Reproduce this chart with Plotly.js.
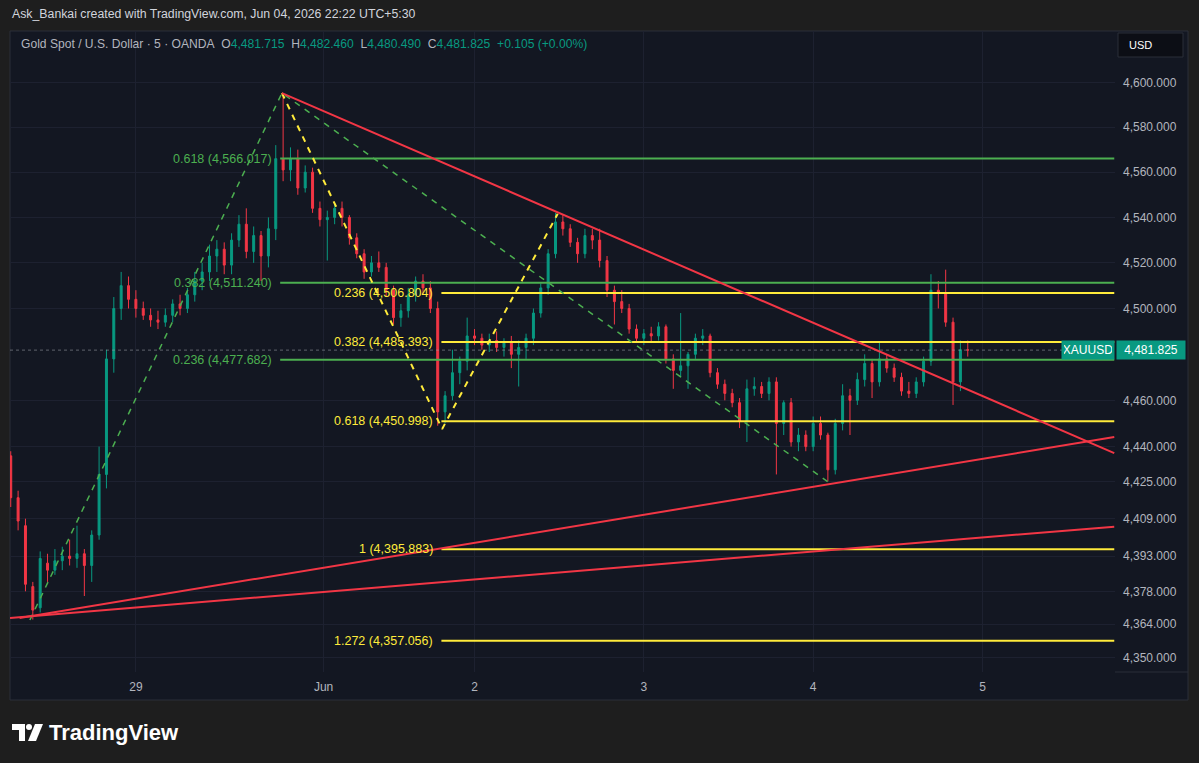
<!DOCTYPE html>
<html><head><meta charset="utf-8">
<script src="https://cdn.plot.ly/plotly-3.0.1.min.js"></script>
<style>html,body{margin:0;padding:0;background:#1e1e1e;}#chart{width:1199px;height:763px;}</style>
</head><body><div id="chart"></div>
<script>
// x = trading hours since Fri 29 May 00:00 (UTC+5:30), weekend gap removed
const candleHour = [-17,-16,-15,-14,-13,-12,-11,-10,-9,-8,-7,-6,-5,-4,-3,-2,-1,0,1,2,3,4,5,6,7,8,9,10,11,12,13,14,15,16,17,18,19,20,21,22,23,24,25,26,27,28,29,30,31,32,33,34,35,36,37,38,39,40,41,42,43,44,45,46,47,48,49,50,51,52,53,54,55,56,57,58,59,60,61,62,63,64,65,66,67,68,69,70,71,72,73,74,75,76,77,78,79,80,81,82,83,84,85,86,87,88,89,90,91,92,93,94,95,96,97,98,99,100,101,102,103,104,105,106,107,108,109,110,111,112,113];
const openPx = [4436,4418,4406,4380,4371,4390,4387,4391,4393,4392,
 4394,4389,4402,4428,4478,4500,4510,4504,4500,4497,
 4495,4494,4497,4502,4500,4506,4512,4516,4523,4526,
 4519,4530,4537,4525,4532,4523,4535,4566,4561,4566,
 4553,4560,4544,4539,4540,4544,4540,4531,4524,4516,
 4520,4518,4508,4496,4499,4506,4512,4509,4500,4455,
 4462,4472,4477,4488,4487,4484,4486,4483,4485,4480,
 4483,4487,4498,4509,4524,4538,4535,4529,4524,4532,
 4530,4521,4508,4503,4500,4491,4487,4489,4488,4492,
 4478,4473,4475,4480,4487,4488,4472,4467,4463,4459,
 4451,4465,4466,4463,4468,4450,4459,4442,4445,4440,
 4450,4445,4430,4450,4462,4460,4469,4476,4468,4478,
 4474,4470,4464,4463,4468,4477,4508,4507,4494,4468,4482];
const highPx = [4438,4421,4409,4382,4395,4394,4396,4397,4400,4406,
 4396,4404,4440,4482,4505,4516,4514,4508,4503,4500,
 4499,4500,4504,4506,4509,4516,4520,4528,4530,4529,
 4533,4541,4544,4536,4534,4540,4572,4595,4571,4570,
 4563,4562,4547,4543,4546,4547,4541,4533,4526,4523,
 4525,4520,4510,4502,4509,4514,4515,4512,4503,4464,
 4482,4479,4496,4491,4489,4489,4490,4487,4488,4486,
 4489,4500,4511,4526,4542,4541,4537,4531,4535,4535,
 4535,4523,4510,4508,4502,4493,4491,4492,4494,4493,
 4480,4498,4481,4489,4491,4489,4474,4469,4465,4461,
 4469,4470,4468,4470,4470,4460,4461,4448,4447,4453,
 4453,4446,4452,4467,4465,4472,4480,4478,4485,4480,
 4476,4472,4468,4470,4479,4515,4512,4517,4496,4486,4486];
const lowPx = [4414,4404,4378,4366,4369,4382,4385,4387,4389,4388,
 4376,4382,4400,4422,4472,4495,4500,4496,4495,4492,
 4491,4492,4494,4497,4498,4503,4508,4512,4516,4515,
 4515,4527,4522,4520,4512,4518,4530,4556,4556,4550,
 4551,4542,4536,4521,4537,4536,4528,4522,4513,4514,
 4516,4505,4493,4492,4496,4503,4506,4498,4449,4450,
 4460,4467,4473,4484,4482,4481,4481,4479,4474,4466,
 4478,4484,4496,4506,4522,4532,4527,4520,4522,4526,
 4518,4505,4493,4498,4489,4485,4484,4485,4486,4476,
 4465,4470,4465,4478,4484,4470,4465,4460,4457,4448,
 4442,4462,4461,4460,4428,4445,4440,4438,4438,4438,
 4443,4425,4428,4447,4445,4458,4466,4461,4466,4472,
 4468,4462,4461,4461,4466,4475,4500,4492,4458,4464,4479];
const closePx = [4418,4408,4381,4370,4392,4387,4391,4393,4392,4394,
 4389,4402,4428,4478,4500,4510,4504,4500,4497,4495,
 4494,4497,4502,4500,4506,4512,4516,4523,4526,4519,
 4530,4537,4525,4532,4523,4535,4566,4561,4566,4553,
 4560,4544,4539,4540,4544,4540,4531,4524,4516,4520,
 4518,4508,4496,4499,4506,4512,4509,4500,4455,4462,
 4472,4477,4488,4487,4484,4486,4483,4485,4480,4483,
 4487,4498,4509,4524,4538,4535,4529,4524,4532,4530,
 4521,4508,4503,4500,4491,4487,4489,4488,4492,4478,
 4473,4475,4480,4487,4488,4472,4467,4463,4459,4451,
 4465,4466,4463,4468,4450,4459,4442,4445,4440,4450,
 4445,4430,4450,4462,4460,4469,4476,4468,4478,4474,
 4470,4464,4463,4468,4477,4508,4507,4494,4468,4482,4481.825];

// axis ticks
const dayTickHours = [0, 25.5, 46, 69, 92, 115];
const dayTickLabels = ['29', 'Jun', '2', '3', '4', '5'];
const priceTicks = [4600,4580,4560,4540,4520,4500,4460,4440,4425,4409,4393,4378,4364,4350];
const priceTickLabels = ['4,600.000','4,580.000','4,560.000','4,540.000','4,520.000','4,500.000','4,460.000','4,440.000','4,425.000','4,409.000','4,393.000','4,378.000','4,364.000','4,350.000'];

// fib retracement (green)
const greenFibRatios = ['0.618','0.382','0.236'];
const greenFibPrices = [4566.017, 4511.240, 4477.682];
const greenFibStartHour = 19.6;
// fib extension (yellow)
const yellowFibRatios = ['0.236','0.382','0.618','1','1.272'];
const yellowFibPrices = [4506.804, 4485.393, 4450.998, 4395.883, 4357.056];
const yellowFibStartHour = 41.5;
const lineEndHour = 132.9;

// zigzag anchor points (dashed)
const greenZigHours = [-14.4, 19.84, 94.6];
const greenZigPrices = [4365.8, 4595.2, 4423.5];
const yellowZigHours = [19.84, 41.6, 57.3];
const yellowZigPrices = [4595.2, 4447.6, 4541.6];

// trend lines (red)
const downTrendHours = [19.84, 132.9];
const downTrendPrices = [4595.2, 4437.2];
const upTrendAHours = [-15.8, 132.9];
const upTrendAPrices = [4366.7, 4444.1];
const upTrendBHours = [-17.1, 132.9];
const upTrendBPrices = [4366.7, 4405.6];

const lastPrice = 4481.825;
const legendOHLC = ['4,481.715','4,482.460','4,480.490','4,481.825'];
const legendChange = '+0.105 (+0.00%)';

const FONT = 'Liberation Sans, Arial, sans-serif';
const GREEN = '#4caf50', YELLOW = '#ffeb3b', RED = '#f23645', TEAL = '#089981';
const L = 10, R = 1115, T = 31, B = 672, W = 1199, H = 763;
const px = v => (v - L) / (R - L);
const py = v => (B - v) / (B - T);

const traces = [];
traces.push({
  type: 'candlestick', x: candleHour, open: openPx, high: highPx, low: lowPx, close: closePx,
  increasing: {line: {color: TEAL, width: 1}, fillcolor: TEAL},
  decreasing: {line: {color: RED, width: 1}, fillcolor: RED},
  whiskerwidth: 0, showlegend: false, hoverinfo: 'skip'
});
function seg(x, y, color, width, dash) {
  traces.push({type: 'scatter', mode: 'lines', x: x, y: y, line: {color: color, width: width, dash: dash || 'solid'},
    showlegend: false, hoverinfo: 'skip', cliponaxis: true});
}
// current price dotted line
seg([-17.1, 125.8], [lastPrice, lastPrice], 'rgba(160,163,172,0.55)', 1, 'dot');
greenFibPrices.forEach(p => seg([greenFibStartHour, lineEndHour], [p, p], GREEN, 2));
yellowFibPrices.forEach(p => seg([yellowFibStartHour, lineEndHour], [p, p], YELLOW, 2));
seg(greenZigHours, greenZigPrices, GREEN, 1.5, '6px,6px');
seg(yellowZigHours, yellowZigPrices, YELLOW, 2, '6px,6px');
seg(downTrendHours, downTrendPrices, RED, 2);
seg(upTrendAHours, upTrendAPrices, RED, 2);
seg(upTrendBHours, upTrendBPrices, RED, 2);

const fmt = (r, p) => r + ' (' + p.toLocaleString('en-US', {minimumFractionDigits: 3, maximumFractionDigits: 3}) + ')';
const annotations = [];
greenFibPrices.forEach((p, i) => annotations.push({
  x: greenFibStartHour, y: Math.log10(p), xref: 'x', yref: 'y', xanchor: 'right', yanchor: 'middle', xshift: -6,
  text: fmt(greenFibRatios[i], p), showarrow: false, font: {family: FONT, size: 12.5, color: GREEN}
}));
yellowFibPrices.forEach((p, i) => annotations.push({
  x: yellowFibStartHour, y: Math.log10(p), xref: 'x', yref: 'y', xanchor: 'right', yanchor: 'middle', xshift: -6,
  text: fmt(yellowFibRatios[i], p), showarrow: false, font: {family: FONT, size: 12.5, color: YELLOW}
}));
// header
annotations.push({x: px(10), y: py(14), xref: 'paper', yref: 'paper', xanchor: 'left', yanchor: 'middle', showarrow: false,
  text: 'Ask_Bankai created with TradingView.com, Jun 04, 2026 22:22 UTC+5:30', font: {family: FONT, size: 12.3, color: '#d1d4dc'}});
const tv = s => '<span style="color:' + TEAL + '">' + s + '</span>';
annotations.push({x: px(19), y: py(44), xref: 'paper', yref: 'paper', xanchor: 'left', yanchor: 'middle', showarrow: false,
  text: 'Gold Spot / U.S. Dollar · 5 · OANDA\u00a0\u00a0O' + tv(legendOHLC[0]) + '\u00a0\u00a0H' + tv(legendOHLC[1]) +
    '\u00a0\u00a0L' + tv(legendOHLC[2]) + '\u00a0\u00a0C' + tv(legendOHLC[3]) + '\u00a0\u00a0' + tv(legendChange),
  font: {family: FONT, size: 12.1, color: '#b2b5be'}});
// price badges
annotations.push({x: 1, y: Math.log10(lastPrice), xref: 'paper', yref: 'y', xanchor: 'right', yanchor: 'middle', showarrow: false,
  text: 'XAUUSD', bgcolor: TEAL, borderpad: 2, width: 48, font: {family: FONT, size: 12, color: '#ffffff'}});
annotations.push({x: 1, y: Math.log10(lastPrice), xref: 'paper', yref: 'y', xanchor: 'left', yanchor: 'middle', showarrow: false, xshift: 1,
  text: '4,481.825', bgcolor: TEAL, borderpad: 2, width: 64, font: {family: FONT, size: 12, color: '#ffffff'}});
// USD box label
annotations.push({x: px(1127), y: py(45), xref: 'paper', yref: 'paper', xanchor: 'left', yanchor: 'middle', showarrow: false,
  text: 'USD', font: {family: FONT, size: 11, color: '#ffffff'}});
// logo text
annotations.push({x: px(47), y: py(732), xref: 'paper', yref: 'paper', xanchor: 'left', yanchor: 'middle', showarrow: false,
  text: '<b>TradingView</b>', font: {family: FONT, size: 22, color: '#ffffff'}});

const shapes = [
  {type: 'rect', xref: 'paper', yref: 'paper', x0: px(10), x1: px(1188), y0: py(700), y1: py(31), fillcolor: '#131722', line: {color: '#2a2e39', width: 1}, layer: 'below'},
  {type: 'line', xref: 'paper', yref: 'paper', x0: px(1115), x1: px(1188), y0: py(672), y1: py(672), line: {color: '#2a2e39', width: 1}},
  {type: 'rect', xref: 'paper', yref: 'paper', x0: px(1118), x1: px(1183), y0: py(57), y1: py(33), fillcolor: '#0c0e15', line: {color: '#2a2e39', width: 1}},
  // logo
  {type: 'rect', xref: 'paper', yref: 'paper', x0: px(12), x1: px(25), y0: py(730), y1: py(724), fillcolor: '#ffffff', line: {width: 0}},
  {type: 'rect', xref: 'paper', yref: 'paper', x0: px(19), x1: px(25), y0: py(741), y1: py(724), fillcolor: '#ffffff', line: {width: 0}},
  {type: 'circle', xref: 'paper', yref: 'paper', x0: px(26), x1: px(32), y0: py(730), y1: py(724), fillcolor: '#ffffff', line: {width: 0}},
  {type: 'path', xref: 'paper', yref: 'paper', fillcolor: '#ffffff', line: {width: 0},
   path: 'M' + px(35) + ',' + py(724) + ' L' + px(43) + ',' + py(724) + ' L' + px(36) + ',' + py(741) + ' L' + px(28) + ',' + py(741) + ' Z'}
];

const layout = {
  width: W, height: H, margin: {l: L, r: W - R, t: T, b: H - B, pad: 0},
  paper_bgcolor: '#1e1e1e', plot_bgcolor: '#131722',
  font: {family: FONT, color: '#b2b5be', size: 12},
  showlegend: false, dragmode: false, boxgap: 0.62,
  xaxis: {range: [-17.1, 133.0], type: 'linear', tickmode: 'array', tickvals: dayTickHours, ticktext: dayTickLabels,
    showgrid: true, gridcolor: '#1d2130', gridwidth: 1, zeroline: false, showline: false, ticks: '',
    ticklabelstandoff: 6, tickfont: {family: FONT, size: 12, color: '#b2b5be'}, rangeslider: {visible: false}, fixedrange: true},
  yaxis: {type: 'log', side: 'right', range: [3.637870, 3.664923], tickmode: 'array', tickvals: priceTicks, ticktext: priceTickLabels,
    showgrid: true, gridcolor: '#1d2130', gridwidth: 1, zeroline: false, showline: false, ticks: '',
    ticklabelstandoff: 7, tickfont: {family: FONT, size: 12, color: '#b2b5be'}, fixedrange: true},
  annotations: annotations, shapes: shapes
};
Plotly.newPlot('chart', traces, layout, {staticPlot: true, displayModeBar: false});
</script></body></html>
